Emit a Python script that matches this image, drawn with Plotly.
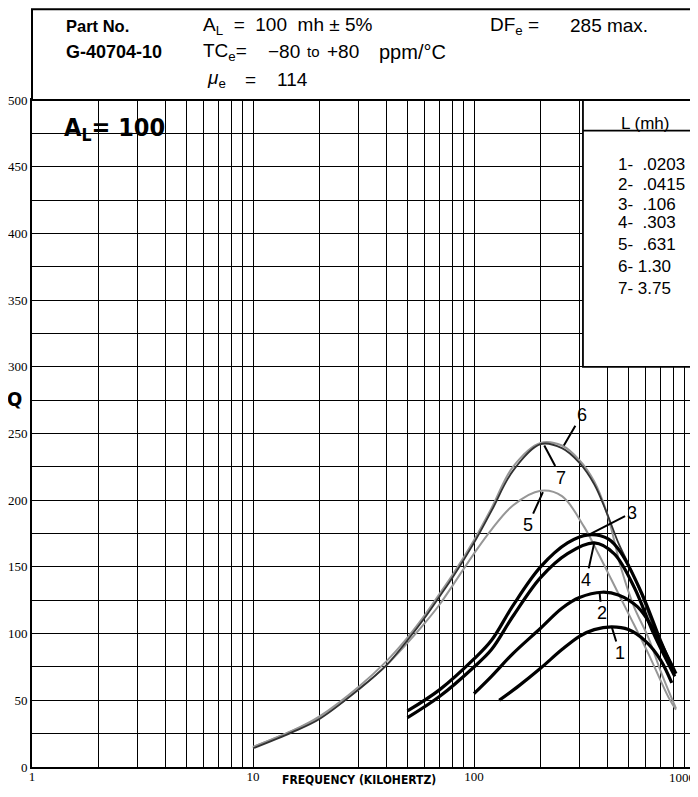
import math
import plotly.graph_objects as go

# ---------------- data ----------------
c1_f = [130, 160, 200, 250, 300, 350, 420, 500, 600, 700, 785]
c1_q = [50, 61, 74, 88, 98, 103, 105, 103, 94, 80, 63]

c2_f = [100, 120, 150, 200, 250, 300, 380, 450, 550, 650, 750, 820]
c2_q = [55, 68, 85, 104, 119, 127, 131, 129, 120, 103, 83, 70]

c3_f = [50, 70, 100, 120, 150, 200, 265, 330, 405, 465, 575, 705, 810]
c3_q = [42, 58, 81, 95, 121, 150, 168, 174, 171, 160, 130, 93, 70]

c4_f = [50, 70, 100, 120, 150, 200, 265, 350, 430, 530, 650, 810]
c4_q = [37, 53, 75, 88, 113, 142, 160, 168, 160, 135, 100, 68]

c5_f = [10, 15, 20, 30, 40, 50, 60, 70, 80, 100, 120, 150, 200, 250, 315, 365, 420, 500, 615, 760, 820]
c5_q = [15, 27, 37, 58, 76, 93, 108, 122, 136, 160, 178, 196, 207, 203, 180, 160, 140, 115, 85, 52, 43]

c6_f = [10, 15, 20, 30, 40, 50, 60, 70, 80, 100, 120, 150, 200, 250, 300, 350, 400, 465, 530, 615, 706, 820]
c6_q = [15, 27, 38, 60, 79, 97, 114, 130, 144, 170, 194, 225, 243, 241, 230, 214, 190, 148, 120, 97, 70, 44]

c7_f = [10, 15, 20, 30, 40, 50, 60, 70, 80, 100, 120, 150, 200, 250, 300, 350, 400, 450, 500, 570, 650, 720, 810]
c7_q = [14, 26, 36, 58, 76, 95, 112, 128, 142, 168, 192, 222, 242, 239, 228, 212, 190, 168, 152, 130, 105, 88, 68]

curve_ids = ["1", "2", "3", "4", "5", "6", "7"]
legend_rows = ["1-&nbsp;&nbsp;.0203", "2-&nbsp;&nbsp;.0415", "3-&nbsp;&nbsp;.106", "4-&nbsp;&nbsp;.303",
               "5-&nbsp;&nbsp;.631", "6- 1.30", "7- 3.75"]

# curve label leader tips (freq, Q)
label_tip_f = [420, 370, 330, 350, 205, 255, 208]
label_tip_q = [105, 131, 174, 168, 206, 241, 241]

y_ticks = list(range(0, 501, 25))
y_text = [str(v) if v % 50 == 0 else "" for v in y_ticks]
x_ticks = [m * 10 ** d for d in range(3) for m in range(1, 10)] + [1000]
x_text = [str(v) if v in (1, 10, 100) else "" for v in x_ticks]

# ---------------- figure ----------------
fig = go.Figure()

gray = "rgb(150,150,150)"
styles = {
    "5": dict(color=gray, width=2),
    "6": dict(color=gray, width=2),
    "7": dict(color="rgb(50,50,50)", width=1.8),
    "1": dict(color="black", width=3.2),
    "2": dict(color="black", width=3.2),
    "3": dict(color="black", width=3.2),
    "4": dict(color="black", width=3.2),
}
series = {"1": (c1_f, c1_q), "2": (c2_f, c2_q), "3": (c3_f, c3_q), "4": (c4_f, c4_q),
          "5": (c5_f, c5_q), "6": (c6_f, c6_q), "7": (c7_f, c7_q)}
for cid in ["5", "6", "7", "4", "3", "2", "1"]:
    f, q = series[cid]
    fig.add_trace(go.Scatter(x=f, y=q, mode="lines", line=dict(shape="spline", smoothing=1.0, **styles[cid]),
                             showlegend=False, hoverinfo="skip"))

tick_font = dict(family="Liberation Serif, Times New Roman, serif", size=13, color="black")

fig.update_layout(
    width=690, height=780,
    margin=dict(l=24, r=3, t=92, b=21),
    paper_bgcolor="white", plot_bgcolor="white",
    xaxis=dict(type="log", range=[0, 3], tickvals=x_ticks, ticktext=x_text, showgrid=True,
               gridcolor="black", gridwidth=1.2, showline=True, linecolor="black", linewidth=2,
               mirror=True, ticks="", tickfont=tick_font, zeroline=False, automargin=False,
               ticklabelstandoff=-4),
    yaxis=dict(range=[0, 500], tickvals=y_ticks, ticktext=y_text, showgrid=True,
               gridcolor="black", gridwidth=1.2, showline=True, linecolor="black", linewidth=2,
               mirror=True, ticks="", tickfont=tick_font, zeroline=False, automargin=False,
               ticklabelstandoff=0),
)

# header box
fig.add_shape(type="rect", xref="paper", yref="paper", x0=0, x1=1.003, y0=1, y1=1.136,
              line=dict(color="black", width=2), fillcolor="white", layer="above")
# legend box
fig.add_shape(type="rect", xref="paper", yref="paper", x0=0.831, x1=1, y0=0.6, y1=1,
              line=dict(color="black", width=1.8), fillcolor="white", layer="above")
fig.add_shape(type="line", xref="paper", yref="paper", x0=0.831, x1=1, y0=0.954, y1=0.954,
              line=dict(color="black", width=1.8), layer="above")

sans = "Liberation Sans, Arial, sans-serif"
narrow = "Liberation Sans Narrow, DejaVu Sans Condensed, sans-serif"

def ann(text, x, y, size, xanchor="left", bold=False, family=sans):
    fig.add_annotation(text=f"<b>{text}</b>" if bold else text, x=x, y=y, xref="paper", yref="paper",
                       xanchor=xanchor, yanchor="middle", showarrow=False,
                       font=dict(family=family, size=size, color="black"))

sp = "&nbsp;"
# header texts
ann("Part No.", 0.0483, 1.111, 16.5, bold=True)
ann("G-40704-10", 0.0483, 1.072, 18, bold=True)
ann(f"A<sub>L</sub>{sp*2}={sp*2}100{sp*2}mh{sp}±{sp}5%", 0.2549, 1.111, 19)
ann("TC<sub>e</sub>=", 0.2549, 1.072, 19)
ann("−80", 0.353, 1.072, 19)
ann("to", 0.4118, 1.072, 15)
ann("+80", 0.4419, 1.072, 19)
ann("ppm/°C", 0.5204, 1.072, 20)
ann("<i>μ</i><sub>e</sub>", 0.2609, 1.031, 19)
ann("=", 0.3183, 1.031, 19)
ann("114", 0.3665, 1.031, 19)
ann(f"DF<sub>e</sub>{sp}=", 0.6878, 1.111, 19)
ann("285 max.", 0.8084, 1.111, 19)

# plot texts
ann("A<sub>L</sub>= 100", 0.045, 0.9565, 25, bold=True, family=narrow)
ann("Q", -0.027, 0.552, 20, xanchor="center", bold=True, family=narrow)
ann("FREQUENCY (KILOHERTZ)", 0.493, -0.019, 12, xanchor="center", bold=True, family=narrow)
fig.add_annotation(text="1000", x=1.003, y=-0.016, xref="paper", yref="paper", xanchor="right",
                   yanchor="middle", showarrow=False, font=tick_font)

# legend box texts
ann("L (mh)", 0.926, 0.965, 17, xanchor="center")
legend_y = [0.904, 0.874, 0.844, 0.816, 0.784, 0.75, 0.718]
for row, yy in zip(legend_rows, legend_y):
    ann(row, 0.881, yy, 17)

# curve labels with leader lines (log axis: annotation x in log10 units)
label_ax = [8, 2, 43, -8, -15, 18, 17]
label_ay = [26, 21, -22, 37, 33, -31, 32]
for cid, f, q, axp, ayp in zip(curve_ids, label_tip_f, label_tip_q, label_ax, label_ay):
    fig.add_annotation(text=cid, x=math.log10(f), y=q, xref="x", yref="y", showarrow=True, arrowhead=0,
                       arrowwidth=2, arrowcolor="black", ax=axp, ay=ayp, standoff=0,
                       font=dict(family=sans, size=18, color="black"))

fig.write_html("out.html")
